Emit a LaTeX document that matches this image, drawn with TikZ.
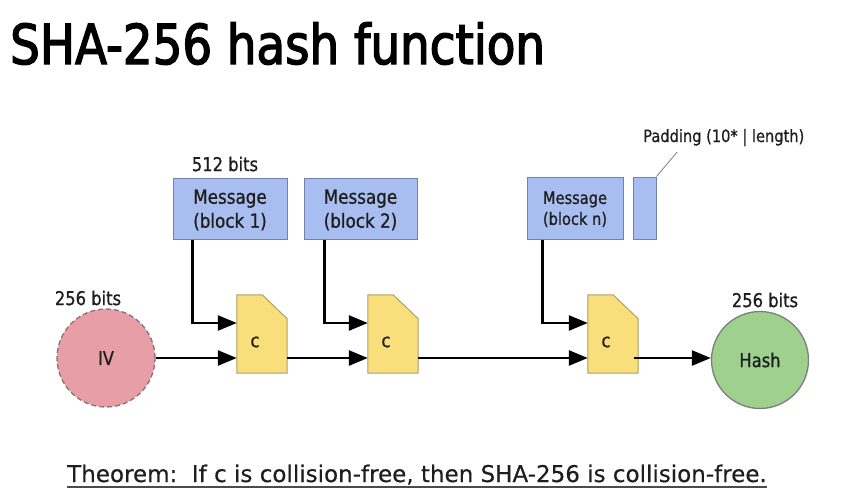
\documentclass[tikz,border=0pt]{standalone}
\usepackage{fontspec}
\setmainfont{DejaVu Sans}
\newfontfamily\titlef{DejaVu Sans}[FakeStretch=0.85,FakeBold=2.5]
\newfontfamily\lblf{DejaVu Sans}[FakeStretch=0.86,FakeBold=0.8]
\newfontfamily\thmf{DejaVu Sans}[FakeStretch=1.0,FakeBold=0.4]
\usetikzlibrary{arrows.meta,calc}
\definecolor{msgfill}{RGB}{168,190,240}
\definecolor{msgdraw}{RGB}{115,130,170}
\definecolor{cfill}{RGB}{249,222,124}
\definecolor{cdraw}{RGB}{175,158,105}
\definecolor{ivfill}{RGB}{232,158,166}
\definecolor{ivdraw}{RGB}{135,115,115}
\definecolor{hashfill}{RGB}{158,208,142}
\definecolor{hashdraw}{RGB}{120,128,120}
\definecolor{txt}{RGB}{30,30,30}
\tikzset{
  msgbox/.style={draw=msgdraw,fill=msgfill,line width=1pt,inner sep=0pt,align=center,text=txt,font=\lblf\fontsize{19.5}{24}\selectfont},
  cbox/.style={draw=none,minimum width=50pt,minimum height=78pt,inner sep=0pt},
  cshape/.style={draw=cdraw,fill=cfill,line width=1pt},
  lbl/.style={text=txt,inner sep=0pt,font=\lblf\fontsize{19}{22}\selectfont},
  arr/.style={line width=2.6pt,-{Triangle[length=19pt,width=15pt]}},
}
\begin{document}
\begin{tikzpicture}[x=1pt,y=-1pt]
\useasboundingbox (0,0) rectangle (849,501);
% title
\node[anchor=base west,inner sep=0pt,font=\titlef\fontsize{55}{60}\selectfont,text=black] (title) at (10,64) {SHA-256 hash function};
% message blocks
\node[msgbox,minimum width=114pt,minimum height=61pt] (m1) at (230,208.5) {\rule{0pt}{17pt}Message\\(block 1)};
\node[msgbox,minimum width=113pt,minimum height=61pt] (m2) at (360.5,208.5) {\rule{0pt}{17pt}Message\\(block 2)};
\node[msgbox,minimum width=96pt,minimum height=62pt,font=\lblf\fontsize{17}{21}\selectfont] (mn) at (575,208) {\rule{0pt}{15pt}Message\\(block n)};
\node[msgbox,minimum width=23pt,minimum height=62pt] (pad) at (644.5,208) {};
% labels
\node[lbl] (l512) at (225,164) {512 bits};
\node[lbl,anchor=base west,font=\lblf\fontsize{17}{20}\selectfont] (padl) at (643,142) {Padding (10* | length)};
\coordinate (padtip) at ($(padl.south west)+(34,6)$);
\draw[line width=0.8pt,draw=gray] (pad.north east) -- (padtip);
\node[lbl] (l256a) at (88,298) {256 bits};
\node[lbl] (l256b) at (765,300) {256 bits};
% compression boxes
\foreach \n/\x in {c1/262,c2/393,c3/613}{
  \node[cbox] (\n) at (\x,334) {};
  \draw[cshape] (\n.south west) -- (\n.north west) -- ($(\n.north east)+(-25,0)$) -- ($(\n.north east)+(0,24)$) -- (\n.south east) -- cycle;
  \node[lbl] (\n t) at ($(\n.center)+(-7,8)$) {c};
}
% IV and Hash
\node[circle,draw=ivdraw,dash pattern=on 5pt off 3pt,line width=1.3pt,fill=ivfill,minimum size=98pt,inner sep=0pt,text=txt,font=\lblf\fontsize{19}{22}\selectfont] (iv) at (106,358) {IV};
\node[circle,draw=hashdraw,line width=1.3pt,fill=hashfill,minimum size=97pt,inner sep=0pt,text=txt,font=\lblf\fontsize{19}{22}\selectfont] (hash) at (760,360) {Hash};
% arrows
\draw[arr] ($(m1.south west)+(20,0)$) |- ($(c1.west)+(0,-11)$);
\draw[arr] ($(m2.south west)+(21,0)$) |- ($(c2.west)+(0,-11)$);
\draw[arr] ($(mn.south west)+(16,0)$) |- ($(c3.west)+(0,-11)$);
\draw[arr] (iv.east) -- (iv.east -| c1.west);
\draw[arr] ($(c1.east)+(0,24)$) -- ($(c2.west)+(0,24)$);
\draw[arr] ($(c2.east)+(0,24)$) -- ($(c3.west)+(0,24)$);
\coordinate (o3) at ($(c3.east)+(-4,24)$);
\draw[arr] (o3) -- (o3 -| hash.west);
% theorem
\node[anchor=base west,inner sep=0pt,text=txt,font=\thmf\fontsize{23}{26}\selectfont] (thm) at (67,482) {Theorem:\ \ If c is collision-free, then SHA-256 is collision-free.};
\draw[line width=1.6pt,draw=txt!80] ($(thm.base west)+(0,5)$) -- ($(thm.base east)+(0,5)$);
\end{tikzpicture}
\end{document}
